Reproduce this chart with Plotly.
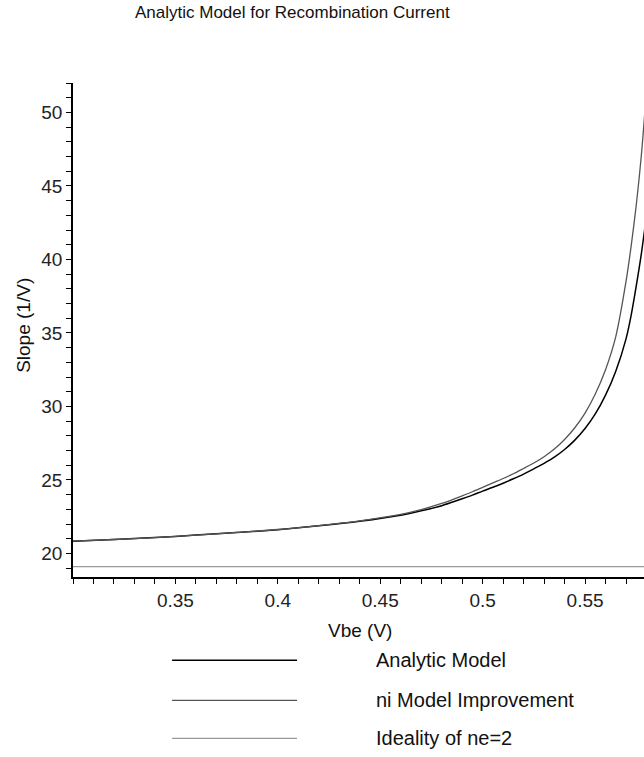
import plotly.graph_objects as go

# Base-emitter voltage samples (V)
vbe = [0.30, 0.32, 0.34, 0.36, 0.38, 0.40, 0.42, 0.44, 0.46, 0.47, 0.48,
       0.485, 0.49, 0.495, 0.50, 0.505, 0.51, 0.515, 0.52, 0.525, 0.53,
       0.535, 0.54, 0.545, 0.55, 0.555, 0.56, 0.565, 0.57, 0.5725, 0.575,
       0.5775, 0.58]

# Slope d(ln I)/dVbe (1/V) for each model
analytic_model = [20.84, 20.95, 21.08, 21.25, 21.42, 21.62, 21.88, 22.19,
                  22.6, 22.9, 23.25, 23.48, 23.72, 23.97, 24.24, 24.5, 24.78,
                  25.08, 25.4, 25.76, 26.13, 26.55, 27.07, 27.71, 28.5, 29.49,
                  30.77, 32.4, 34.6, 36.2, 38.2, 40.4, 43.0]
ni_improvement = [20.84, 20.95, 21.08, 21.25, 21.43, 21.63, 21.9, 22.22,
                  22.66, 22.98, 23.4, 23.65, 23.92, 24.2, 24.5, 24.8, 25.1,
                  25.42, 25.78, 26.15, 26.58, 27.1, 27.75, 28.55, 29.55, 30.85,
                  32.5, 34.75, 38.5, 40.9, 43.7, 47.1, 51.5]
ideality_vbe = [0.30, 0.58]
ideality_ne2 = [19.1, 19.1]

series_names = ["Analytic Model", "ni Model Improvement", "Ideality of ne=2"]
series_colors = ["#000000", "#555555", "#808080"]
series_widths = [1.5, 1.3, 1.0]

x_ticks = [0.35, 0.40, 0.45, 0.50, 0.55]
x_tick_text = ["0.35", "0.4", "0.45", "0.5", "0.55"]
y_ticks = [20, 25, 30, 35, 40, 45, 50]

FONT = "Liberation Sans, Arial, sans-serif"
W, H = 644, 757
L, R, T, B = 72.5, 0, 82.7, 180.3
PW, PH = W - L - R, H - T - B


def px_to_paper(px, py):
    return (px - L) / PW, (H - B - py) / PH


fig = go.Figure()
for name, xs, ys, col, lw in zip(
        series_names,
        [vbe, vbe, ideality_vbe],
        [analytic_model, ni_improvement, ideality_ne2],
        series_colors, series_widths):
    fig.add_trace(go.Scatter(x=xs, y=ys, mode="lines", name=name,
                             line=dict(color=col, width=lw, shape="spline",
                                       smoothing=0.8),
                             showlegend=False))

annotations = []
shapes = []

# Title
tx, ty = px_to_paper(291.7, 12)
annotations.append(dict(text="Analytic Model for Recombination Current",
                        x=tx, y=ty, xref="paper", yref="paper",
                        xanchor="center", yanchor="middle", showarrow=False,
                        font=dict(family=FONT, size=17, color="#111")))
# Axis titles
ax, ay = px_to_paper(360, 630)
annotations.append(dict(text="Vbe (V)", x=ax, y=ay, xref="paper", yref="paper",
                        xanchor="center", yanchor="middle", showarrow=False,
                        font=dict(family=FONT, size=19, color="#111")))
yx, yy = px_to_paper(23, 325)
annotations.append(dict(text="Slope (1/V)", x=yx, y=yy, xref="paper",
                        yref="paper", xanchor="center", yanchor="middle",
                        textangle=-90, showarrow=False,
                        font=dict(family=FONT, size=19, color="#111")))

# Legend entries: line sample plus label
legend_rows = [660, 700, 738]
for name, col, lw, row in zip(series_names, series_colors, series_widths,
                              legend_rows):
    x0, y0 = px_to_paper(171.7, row)
    x1, _ = px_to_paper(296.7, row)
    shapes.append(dict(type="line", xref="paper", yref="paper",
                       x0=x0, x1=x1, y0=y0, y1=y0,
                       line=dict(color=col, width=lw)))
    lx, _ = px_to_paper(373.3, row)
    annotations.append(dict(text=name, x=lx, y=y0, xref="paper", yref="paper",
                            xanchor="left", yanchor="middle", showarrow=False,
                            font=dict(family=FONT, size=20, color="#111")))

fig.update_layout(
    width=W, height=H,
    margin=dict(l=L, r=R, t=T, b=B, pad=0),
    paper_bgcolor="white", plot_bgcolor="white",
    font=dict(family=FONT, size=19, color="#222"),
    annotations=annotations, shapes=shapes,
    showlegend=False,
)
fig.update_xaxes(range=[0.3, 0.3 + PW / 2050.0], showgrid=False,
                 zeroline=False, showline=True, linecolor="black", linewidth=1.5,
                 ticks="outside", ticklen=5, tickcolor="black",
                 tickvals=x_ticks, ticktext=x_tick_text,
                 tickfont=dict(family=FONT, size=19, color="#222"),
                 minor=dict(ticks="outside", dtick=0.01, tick0=0.3, ticklen=5,
                            tickcolor="black", showgrid=False))
fig.update_yaxes(range=[18.4, 52.0], showgrid=False, zeroline=False,
                 showline=True, linecolor="black", linewidth=1.5,
                 ticks="outside", ticklen=5, tickcolor="black",
                 tickvals=y_ticks,
                 tickfont=dict(family=FONT, size=19, color="#222"),
                 minor=dict(ticks="outside", dtick=1, tick0=0, ticklen=5,
                            tickcolor="black", showgrid=False))

fig.write_html("out.html")
